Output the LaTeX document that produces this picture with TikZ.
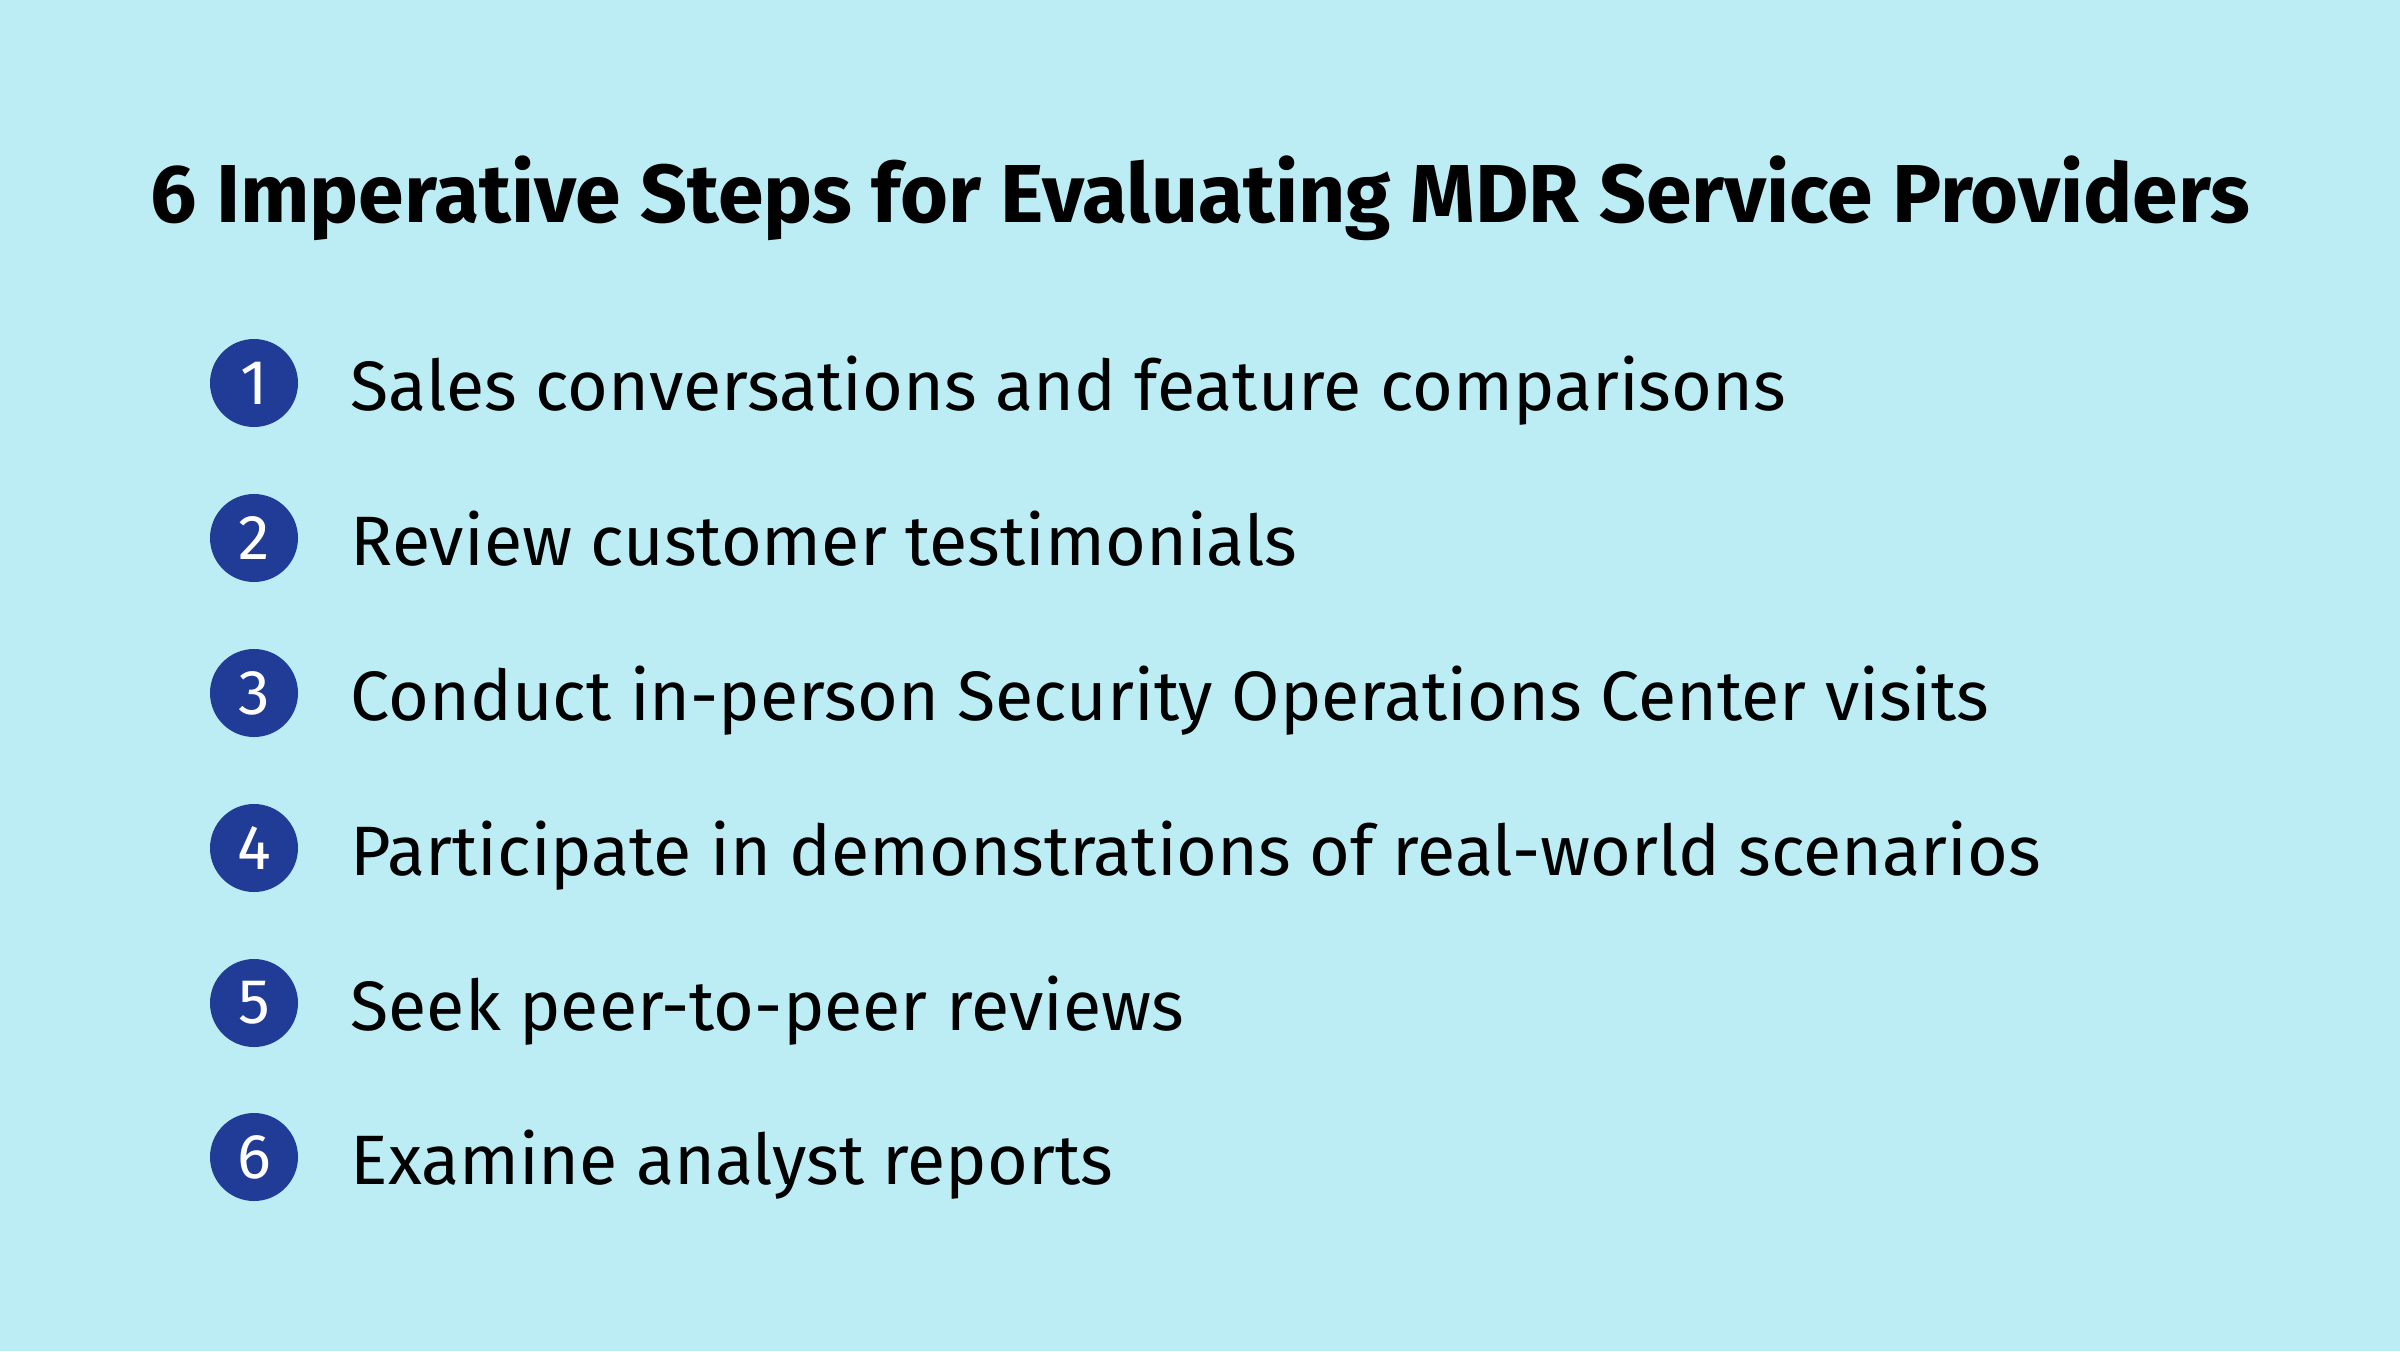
\documentclass[tikz,border=0pt]{standalone}
\usepackage{fontspec}
\setmainfont{Fira Sans}
\definecolor{bgcyan}{RGB}{188,237,245}
\definecolor{badgeblue}{RGB}{33,60,150}
\begin{document}
\begin{tikzpicture}[num badge/.style={circle,fill=badgeblue,text=white,minimum size=0.88cm,inner sep=0pt,font=\fontsize{18}{21}\selectfont},
    item text/.style={anchor=base west,inner sep=0pt,font=\fontsize{19.9}{24}\selectfont},
    heading/.style={anchor=base,inner sep=0pt,font=\fontsize{23.4}{28}\selectfont\bfseries}]
                \fill[bgcyan] (0,0) rectangle (24,-13.51);
                \node[heading] (title) at (12,-2.22) {6 Imperative Steps for Evaluating MDR Service Providers};
                \node[num badge] (n1) at (2.54,-3.83) {1};
                \node[item text] (s1) at (3.5,-4.10) {Sales conversations and feature comparisons};
                \node[num badge] (n2) at (2.54,-5.38) {2};
                \node[item text] (s2) at (3.5,-5.65) {Review customer testimonials};
                \node[num badge] (n3) at (2.54,-6.93) {3};
                \node[item text] (s3) at (3.5,-7.20) {Conduct in-person Security Operations Center visits};
                \node[num badge] (n4) at (2.54,-8.48) {4};
                \node[item text] (s4) at (3.5,-8.75) {Participate in demonstrations of real-world scenarios};
                \node[num badge] (n5) at (2.54,-10.03) {5};
                \node[item text] (s5) at (3.5,-10.30) {Seek peer-to-peer reviews};
                \node[num badge] (n6) at (2.54,-11.57) {6};
                \node[item text] (s6) at (3.5,-11.84) {Examine analyst reports};
            \end{tikzpicture}
\end{document}
